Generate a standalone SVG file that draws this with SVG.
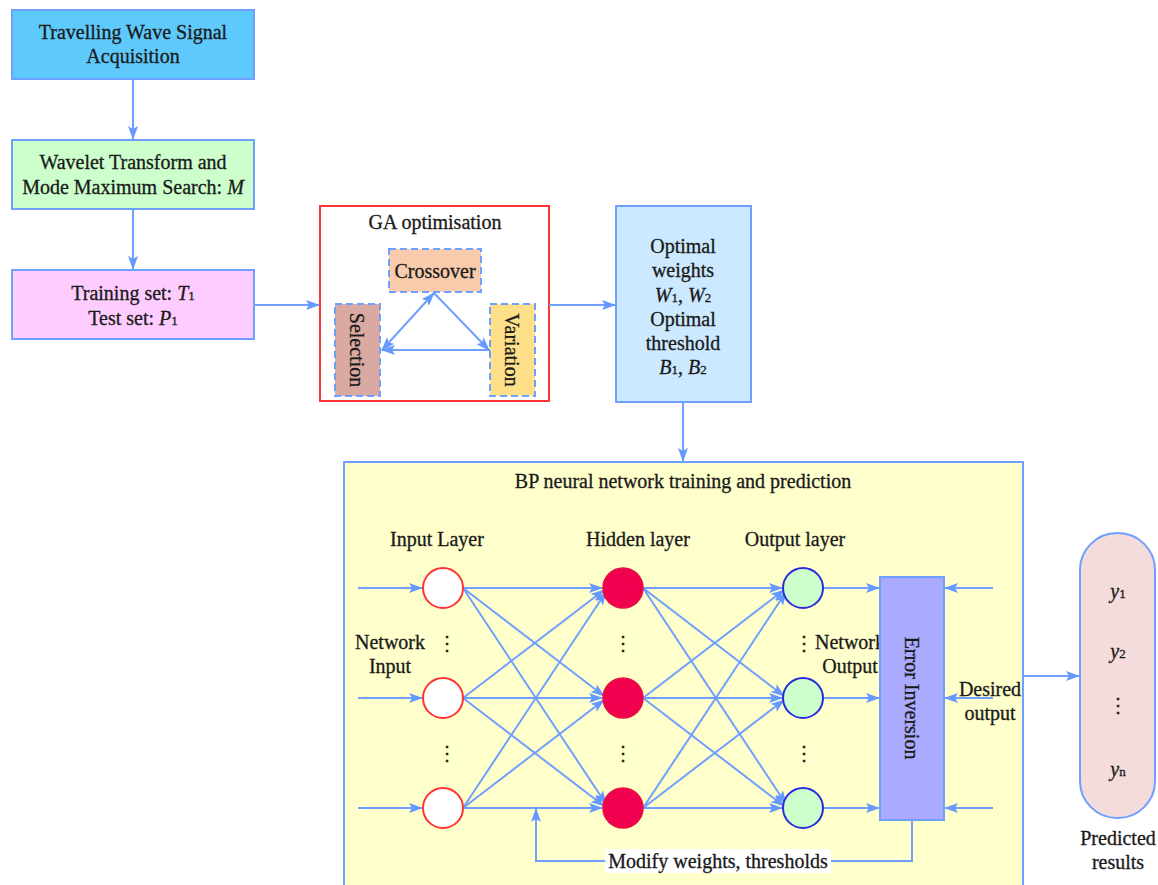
<svg xmlns="http://www.w3.org/2000/svg" width="1158" height="885" viewBox="0 0 1158 885">
<defs>
<marker id="ah" viewBox="0 0 14 10" refX="13" refY="5" markerWidth="14" markerHeight="10" markerUnits="userSpaceOnUse" orient="auto-start-reverse">
<path d="M0,0 L14,5 L0,10 L3,5 z" fill="#6699ff"/>
</marker>
</defs>
<style>
text{font-family:"Liberation Serif","Times New Roman",serif;fill:#1a1a1a;stroke:#1a1a1a;stroke-width:0.3;font-size:20px;text-anchor:middle}
.ln{stroke:#6f9fff;stroke-width:2;fill:none}
.arr{stroke:#6f9fff;stroke-width:2;fill:none;marker-end:url(#ah)}
.dash{stroke:#6f9fff;stroke-width:2;stroke-dasharray:7 4}
.sub{font-size:13px}
.it{font-style:italic}
</style>
<rect width="1158" height="885" fill="#ffffff"/>

<g id="n-acq">
<rect x="12" y="10" width="242" height="69" fill="#5ec9fb" stroke="#6f9fff" stroke-width="2"/>
<text x="133" y="39">Travelling Wave Signal</text>
<text x="133" y="63">Acquisition</text>
</g>
<g id="n-wavelet">
<rect x="12" y="140" width="242" height="69" fill="#ccffcc" stroke="#6f9fff" stroke-width="2"/>
<text x="133" y="169">Wavelet Transform and</text>
<text x="133" y="194">Mode Maximum Search: <tspan class="it">M</tspan></text>
</g>
<g id="n-sets">
<rect x="12" y="270" width="242" height="69" fill="#ffccff" stroke="#6f9fff" stroke-width="2"/>
<text x="133" y="300">Training set: <tspan class="it">T</tspan><tspan class="sub">1</tspan></text>
<text x="133" y="325">Test set: <tspan class="it">P</tspan><tspan class="sub">1</tspan></text>
</g>

<g id="n-ga">
<rect x="320" y="206" width="229" height="195" fill="#ffffff" stroke="#ff3333" stroke-width="2"/>
<text x="435" y="229">GA optimisation</text>
</g>
<g id="n-crossover">
<rect x="389" y="249" width="92" height="43" fill="#f8cbad" class="dash"/>
<text x="435" y="278">Crossover</text>
</g>
<g id="n-selection">
<rect x="335" y="304" width="45" height="92" fill="#d9a9a2" class="dash"/>
<text transform="translate(357,350) rotate(90)" y="7">Selection</text>
</g>
<g id="n-variation">
<rect x="490" y="304" width="45" height="92" fill="#ffe08a" class="dash"/>
<text transform="translate(512,350) rotate(90)" y="7">Variation</text>
</g>

<g id="n-optimal">
<rect x="616" y="206" width="135" height="196" fill="#cce9ff" stroke="#6f9fff" stroke-width="2"/>
<text x="683" y="253">Optimal</text>
<text x="683" y="277">weights</text>
<text x="683" y="302"><tspan class="it">W</tspan><tspan class="sub">1</tspan>, <tspan class="it">W</tspan><tspan class="sub">2</tspan></text>
<text x="683" y="326">Optimal</text>
<text x="683" y="350">threshold</text>
<text x="683" y="374"><tspan class="it">B</tspan><tspan class="sub">1</tspan>, <tspan class="it">B</tspan><tspan class="sub">2</tspan></text>
</g>

<g id="n-bp">
<rect x="344" y="462" width="679" height="430" fill="#ffffcc" stroke="#6f9fff" stroke-width="2"/>
<text x="683" y="488">BP neural network training and prediction</text>
<text x="437" y="546">Input Layer</text>
<text x="638" y="546">Hidden layer</text>
<text x="795" y="546">Output layer</text>
<text x="390" y="649">Network</text>
<text x="390" y="673">Input</text>
<text x="850" y="649">Network</text>
<text x="850" y="673">Output</text>
<text x="990" y="696">Desired</text>
<text x="990" y="720">output</text>
<text x="447" y="650">⋮</text>
<text x="447" y="760">⋮</text>
<text x="623" y="650">⋮</text>
<text x="623" y="760">⋮</text>
<text x="804" y="650">⋮</text>
<text x="804" y="760">⋮</text>
</g>

<g id="connectors">
<line class="arr" x1="133" y1="79" x2="133" y2="139"/>
<line class="arr" x1="133" y1="209" x2="133" y2="269"/>
<line class="arr" x1="254" y1="305" x2="319" y2="305"/>
<line class="arr" x1="549" y1="305" x2="615" y2="305"/>
<line class="arr" x1="683" y1="402" x2="683" y2="461"/>
<line class="arr" x1="382" y1="350" x2="434" y2="293" style="marker-start:url(#ah)"/>
<line class="arr" x1="434" y1="293" x2="489" y2="350"/>
<line class="arr" x1="490" y1="350" x2="382" y2="350"/>

<line class="arr" x1="358" y1="588" x2="422" y2="588"/>
<line class="arr" x1="358" y1="698" x2="422" y2="698"/>
<line class="arr" x1="358" y1="808" x2="422" y2="808"/>

<line class="arr" x1="463" y1="588" x2="602" y2="588"/>
<line class="arr" x1="463" y1="588" x2="604" y2="696"/>
<line class="arr" x1="463" y1="588" x2="606" y2="804"/>
<line class="arr" x1="463" y1="698" x2="604" y2="590"/>
<line class="arr" x1="463" y1="698" x2="602" y2="698"/>
<line class="arr" x1="463" y1="698" x2="604" y2="806"/>
<line class="arr" x1="463" y1="808" x2="606" y2="592"/>
<line class="arr" x1="463" y1="808" x2="604" y2="700"/>
<line class="arr" x1="463" y1="808" x2="602" y2="808"/>

<line class="arr" x1="643" y1="588" x2="782" y2="588"/>
<line class="arr" x1="643" y1="588" x2="784" y2="696"/>
<line class="arr" x1="643" y1="588" x2="786" y2="804"/>
<line class="arr" x1="643" y1="698" x2="784" y2="590"/>
<line class="arr" x1="643" y1="698" x2="782" y2="698"/>
<line class="arr" x1="643" y1="698" x2="784" y2="806"/>
<line class="arr" x1="643" y1="808" x2="786" y2="592"/>
<line class="arr" x1="643" y1="808" x2="784" y2="700"/>
<line class="arr" x1="643" y1="808" x2="782" y2="808"/>

<line class="arr" x1="823" y1="588" x2="879" y2="588"/>
<line class="arr" x1="823" y1="698" x2="879" y2="698"/>
<line class="arr" x1="823" y1="808" x2="879" y2="808"/>
<line class="arr" x1="993" y1="588" x2="945" y2="588"/>
<line class="arr" x1="993" y1="698" x2="945" y2="698"/>
<line class="arr" x1="993" y1="808" x2="945" y2="808"/>

<polyline class="arr" points="912,820 912,861 536,861 536,809"/>
<line class="arr" x1="1023" y1="676" x2="1079" y2="676"/>
</g>

<g id="n-in1"><circle cx="443" cy="588" r="20" fill="#ffffff" stroke="#ff3333" stroke-width="2"/></g>
<g id="n-in2"><circle cx="443" cy="698" r="20" fill="#ffffff" stroke="#ff3333" stroke-width="2"/></g>
<g id="n-in3"><circle cx="443" cy="808" r="20" fill="#ffffff" stroke="#ff3333" stroke-width="2"/></g>
<g id="n-hid1"><circle cx="623" cy="588" r="20" fill="#f0004f" stroke="#e8103f" stroke-width="1.5"/></g>
<g id="n-hid2"><circle cx="623" cy="698" r="20" fill="#f0004f" stroke="#e8103f" stroke-width="1.5"/></g>
<g id="n-hid3"><circle cx="623" cy="808" r="20" fill="#f0004f" stroke="#e8103f" stroke-width="1.5"/></g>
<g id="n-out1"><circle cx="803" cy="588" r="20" fill="#ccffcc" stroke="#2b2bdd" stroke-width="2"/></g>
<g id="n-out2"><circle cx="803" cy="698" r="20" fill="#ccffcc" stroke="#2b2bdd" stroke-width="2"/></g>
<g id="n-out3"><circle cx="803" cy="808" r="20" fill="#ccffcc" stroke="#2b2bdd" stroke-width="2"/></g>

<g id="n-error">
<rect x="880" y="577" width="64" height="243" fill="#aaaaff" stroke="#6f9fff" stroke-width="2"/>
<text transform="translate(912,698) rotate(90)" y="7">Error Inversion</text>
</g>

<g id="n-modify">
<rect x="605" y="849" width="226" height="24" fill="#ffffff"/>
<text x="718" y="868">Modify weights, thresholds</text>
</g>

<g id="n-result">
<rect x="1080" y="533" width="75" height="285" rx="37" ry="37" fill="#f3dcdb" stroke="#6f9fff" stroke-width="2"/>
<text x="1118" y="598"><tspan class="it">y</tspan><tspan class="sub">1</tspan></text>
<text x="1118" y="658"><tspan class="it">y</tspan><tspan class="sub">2</tspan></text>
<text x="1118" y="712">⋮</text>
<text x="1118" y="776"><tspan class="it">y</tspan><tspan class="sub">n</tspan></text>
<text x="1118" y="845">Predicted</text>
<text x="1118" y="869">results</text>
</g>
</svg>
